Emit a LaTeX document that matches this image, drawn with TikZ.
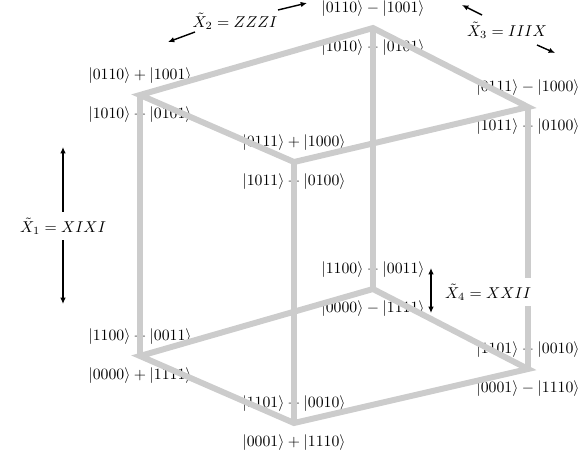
\documentclass[tikz,border=0pt]{standalone}
\usepackage{amsmath}
\usetikzlibrary{positioning, arrows.meta}

\begin{document}
\begin{tikzpicture}[
    x=0.636pt, y=-0.636pt,
    edge/.style={draw=black!20, line width=3.8pt},
    state/.style={inner sep=3.33pt},
    op/.style={fill=white, inner sep=3.5pt},
    flip/.style={draw, line width=0.9pt, -{Latex[length=4pt, width=3.5pt]}},
    flipboth/.style={draw, line width=0.9pt, {Latex[length=4pt, width=3.5pt]}-{Latex[length=4pt, width=3.5pt]}}
]
\useasboundingbox (0,0) rectangle (582,452);

% corners of the cube
\coordinate (tl) at (140,95);
\coordinate (tb) at (373,28);
\coordinate (tr) at (528,107);
\coordinate (tf) at (294,162);
\coordinate (bl) at (140,356);
\coordinate (bb) at (373,289);
\coordinate (br) at (528,369);
\coordinate (bf) at (294,423);

% states at the corners
\node[state, above=3.8pt of tl] (tl-a) {$|0110\rangle + |1001\rangle$};
\node[state, below=3.8pt of tl] (tl-b) {$|1010\rangle + |0101\rangle$};
\node[state, above=3.8pt of tb] (tb-a) {$|0110\rangle - |1001\rangle$};
\node[state, below=3.8pt of tb] (tb-b) {$|1010\rangle - |0101\rangle$};
\node[state, above=3.8pt of tr] (tr-a) {$|0111\rangle - |1000\rangle$};
\node[state, below=3.8pt of tr] (tr-b) {$|1011\rangle - |0100\rangle$};
\node[state, above=3.8pt of tf] (tf-a) {$|0111\rangle + |1000\rangle$};
\node[state, below=3.8pt of tf] (tf-b) {$|1011\rangle + |0100\rangle$};
\node[state, above=3.8pt of bl] (bl-a) {$|1100\rangle + |0011\rangle$};
\node[state, below=3.8pt of bl] (bl-b) {$|0000\rangle + |1111\rangle$};
\node[state, above=3.8pt of bb] (bb-a) {$|1100\rangle - |0011\rangle$};
\node[state, below=3.8pt of bb] (bb-b) {$|0000\rangle - |1111\rangle$};
\node[state, above=3.8pt of br] (br-a) {$|1101\rangle - |0010\rangle$};
\node[state, below=3.8pt of br] (br-b) {$|0001\rangle - |1110\rangle$};
\node[state, above=3.8pt of bf] (bf-a) {$|1101\rangle + |0010\rangle$};
\node[state, below=3.8pt of bf] (bf-b) {$|0001\rangle + |1110\rangle$};

% edges
\draw[edge] (tl) -- (tb) -- (tr) -- (tf) -- cycle;
\draw[edge] (bl) -- (bb) -- (br) -- (bf) -- cycle;
\draw[edge] (tl) -- (bl);
\draw[edge] (tb) -- (bb);
\draw[edge] (tr) -- (br);
\draw[edge] (tf) -- (bf);

% operators
\node[op] (x1) at (63,226) {$\tilde{X}_1 = XIXI$};
\coordinate (x1-up) at (63,147);
\coordinate (x1-dn) at (63,304);
\draw[flip] (x1) -- (x1-up);
\draw[flip] (x1) -- (x1-dn);

\node[op] (x2) at (235,21) {$\tilde{X}_2 = ZZZI$};
\coordinate (x2-ls) at (195,32);
\coordinate (x2-lt) at (168,42);
\coordinate (x2-rs) at (278,10);
\coordinate (x2-rt) at (307,3);
\draw[flip] (x2-ls) -- (x2-lt);
\draw[flip] (x2-rs) -- (x2-rt);

\node[op] (x3) at (507,30) {$\tilde{X}_3 = IIIX$};
\coordinate (x3-ls) at (482,15);
\coordinate (x3-lt) at (462,5);
\coordinate (x3-rs) at (537,45);
\coordinate (x3-rt) at (555,53);
\draw[flip] (x3-ls) -- (x3-lt);
\draw[flip] (x3-rs) -- (x3-rt);

\node[op] (x4) at (488,292) {$\tilde{X}_4 = XXII$};
\coordinate (x4-up) at (431,268);
\coordinate (x4-dn) at (431,313);
\draw[flipboth] (x4-up) -- (x4-dn);
\end{tikzpicture}
\end{document}
